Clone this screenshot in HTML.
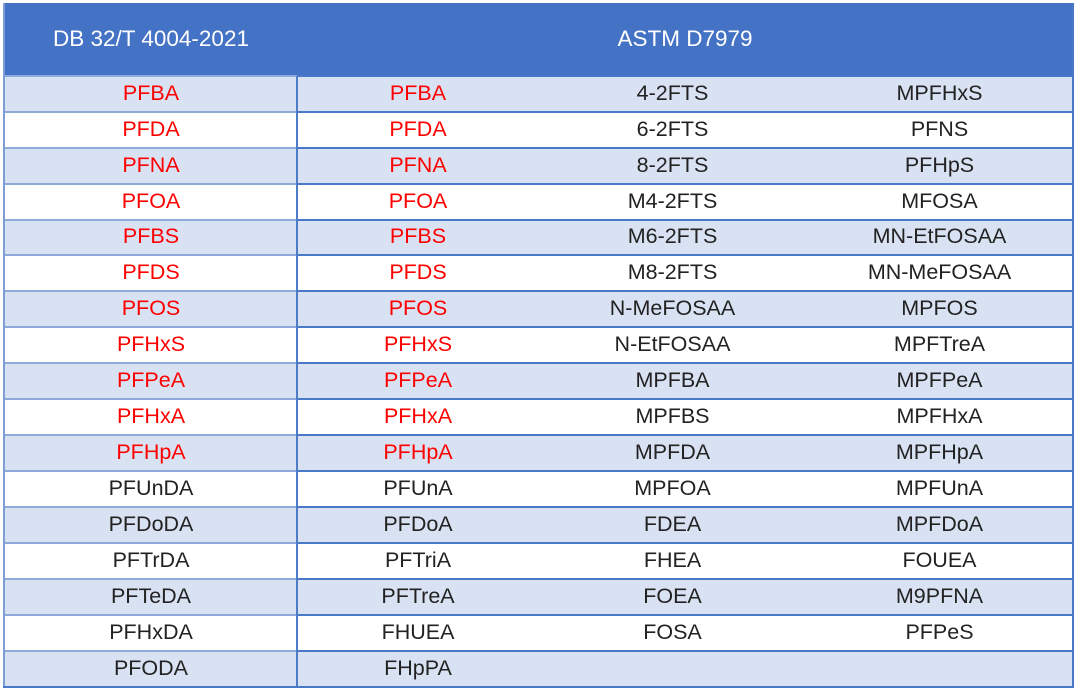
<!DOCTYPE html>
<html>
<head>
<meta charset="utf-8">
<style>
  html,body{margin:0;padding:0;background:#fff;}
  body{width:1080px;height:690px;position:relative;overflow:hidden;
       font-family:"Liberation Sans","Noto Sans CJK SC",sans-serif;}
  .tbl{position:absolute;left:3px;top:3px;width:1071px;height:684px;background:#fff;}
  .hdr{position:absolute;left:3px;top:3px;width:1071px;height:73px;background:#4472c4;}
  .ht{position:absolute;top:2px;height:73px;line-height:73px;color:#fff;font-size:22.5px;text-align:center;}
  .row{position:absolute;left:3px;width:1071px;height:35.92px;}
  .alt{background:#d9e2f3;}
  .c{position:absolute;top:0px;height:35.92px;line-height:35.92px;text-align:center;font-size:21.5px;color:#222;white-space:nowrap;}
  .c1{left:2px;width:292px;}
  .c2{left:294px;width:242px;}
  .c3{left:536px;width:267px;}
  .c4{left:803px;width:267px;}
  .r{color:#ff0000;}
  .hl{position:absolute;height:2px;}
  .hlA{left:5px;width:292px;background:#8eaadb;}
  .hlB{left:297px;width:776px;background:#4a78c8;}
  .vl{position:absolute;left:296px;top:76px;width:2px;height:611px;background:#4f7cc9;}
  .lb{position:absolute;left:3px;top:3px;width:2px;height:684px;background:#7e9dd6;}
  .rb{position:absolute;left:1072px;top:3px;width:2px;height:684px;background:#4a78c8;}
  .bb{position:absolute;left:3px;top:685.5px;width:1071px;height:2px;background:#4a78c8;}
</style>
</head>
<body>
<div class="tbl"></div>
<div class="hdr"></div>
<div class="ht" style="left:5px;width:292px;">DB 32/T 4004-2021</div>
<div class="ht" style="left:297px;width:776px;">ASTM D7979</div>

<div class="row alt" style="top:75.8px"><div class="c c1 r">PFBA</div><div class="c c2 r">PFBA</div><div class="c c3">4-2FTS</div><div class="c c4">MPFHxS</div></div>
<div class="row" style="top:111.72px"><div class="c c1 r">PFDA</div><div class="c c2 r">PFDA</div><div class="c c3">6-2FTS</div><div class="c c4">PFNS</div></div>
<div class="row alt" style="top:147.64px"><div class="c c1 r">PFNA</div><div class="c c2 r">PFNA</div><div class="c c3">8-2FTS</div><div class="c c4">PFHpS</div></div>
<div class="row" style="top:183.56px"><div class="c c1 r">PFOA</div><div class="c c2 r">PFOA</div><div class="c c3">M4-2FTS</div><div class="c c4">MFOSA</div></div>
<div class="row alt" style="top:219.48px"><div class="c c1 r">PFBS</div><div class="c c2 r">PFBS</div><div class="c c3">M6-2FTS</div><div class="c c4">MN-EtFOSAA</div></div>
<div class="row" style="top:255.4px"><div class="c c1 r">PFDS</div><div class="c c2 r">PFDS</div><div class="c c3">M8-2FTS</div><div class="c c4">MN-MeFOSAA</div></div>
<div class="row alt" style="top:291.32px"><div class="c c1 r">PFOS</div><div class="c c2 r">PFOS</div><div class="c c3">N-MeFOSAA</div><div class="c c4">MPFOS</div></div>
<div class="row" style="top:327.24px"><div class="c c1 r">PFHxS</div><div class="c c2 r">PFHxS</div><div class="c c3">N-EtFOSAA</div><div class="c c4">MPFTreA</div></div>
<div class="row alt" style="top:363.16px"><div class="c c1 r">PFPeA</div><div class="c c2 r">PFPeA</div><div class="c c3">MPFBA</div><div class="c c4">MPFPeA</div></div>
<div class="row" style="top:399.08px"><div class="c c1 r">PFHxA</div><div class="c c2 r">PFHxA</div><div class="c c3">MPFBS</div><div class="c c4">MPFHxA</div></div>
<div class="row alt" style="top:435px"><div class="c c1 r">PFHpA</div><div class="c c2 r">PFHpA</div><div class="c c3">MPFDA</div><div class="c c4">MPFHpA</div></div>
<div class="row" style="top:470.92px"><div class="c c1">PFUnDA</div><div class="c c2">PFUnA</div><div class="c c3">MPFOA</div><div class="c c4">MPFUnA</div></div>
<div class="row alt" style="top:506.84px"><div class="c c1">PFDoDA</div><div class="c c2">PFDoA</div><div class="c c3">FDEA</div><div class="c c4">MPFDoA</div></div>
<div class="row" style="top:542.76px"><div class="c c1">PFTrDA</div><div class="c c2">PFTriA</div><div class="c c3">FHEA</div><div class="c c4">FOUEA</div></div>
<div class="row alt" style="top:578.68px"><div class="c c1">PFTeDA</div><div class="c c2">PFTreA</div><div class="c c3">FOEA</div><div class="c c4">M9PFNA</div></div>
<div class="row" style="top:614.6px"><div class="c c1">PFHxDA</div><div class="c c2">FHUEA</div><div class="c c3">FOSA</div><div class="c c4">PFPeS</div></div>
<div class="row alt" style="top:650.52px"><div class="c c1">PFODA</div><div class="c c2">FHpPA</div><div class="c c3"></div><div class="c c4"></div></div>

<!-- horizontal row lines -->
<div class="hl hlA" style="top:74.8px"></div><div class="hl hlB" style="top:74.8px"></div>
<div class="hl hlA" style="top:110.7px"></div><div class="hl hlB" style="top:110.7px"></div>
<div class="hl hlA" style="top:146.6px"></div><div class="hl hlB" style="top:146.6px"></div>
<div class="hl hlA" style="top:182.5px"></div><div class="hl hlB" style="top:182.5px"></div>
<div class="hl hlA" style="top:218.5px"></div><div class="hl hlB" style="top:218.5px"></div>
<div class="hl hlA" style="top:254.4px"></div><div class="hl hlB" style="top:254.4px"></div>
<div class="hl hlA" style="top:290.3px"></div><div class="hl hlB" style="top:290.3px"></div>
<div class="hl hlA" style="top:326.2px"></div><div class="hl hlB" style="top:326.2px"></div>
<div class="hl hlA" style="top:362.2px"></div><div class="hl hlB" style="top:362.2px"></div>
<div class="hl hlA" style="top:398.1px"></div><div class="hl hlB" style="top:398.1px"></div>
<div class="hl hlA" style="top:434px"></div><div class="hl hlB" style="top:434px"></div>
<div class="hl hlA" style="top:469.9px"></div><div class="hl hlB" style="top:469.9px"></div>
<div class="hl hlA" style="top:505.8px"></div><div class="hl hlB" style="top:505.8px"></div>
<div class="hl hlA" style="top:541.8px"></div><div class="hl hlB" style="top:541.8px"></div>
<div class="hl hlA" style="top:577.7px"></div><div class="hl hlB" style="top:577.7px"></div>
<div class="hl hlA" style="top:613.6px"></div><div class="hl hlB" style="top:613.6px"></div>
<div class="hl hlA" style="top:649.5px"></div><div class="hl hlB" style="top:649.5px"></div>

<div class="vl"></div>
<div class="lb"></div>
<div class="rb"></div>
<div class="bb"></div>
</body>
</html>
